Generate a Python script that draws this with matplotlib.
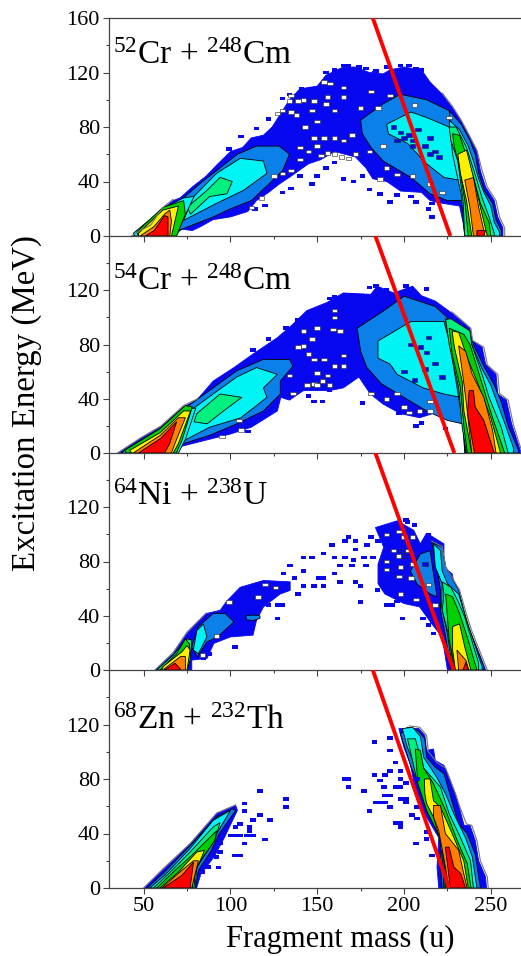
import matplotlib

matplotlib.use('Agg')
import matplotlib.pyplot as plt

plt.rcParams['font.family'] = ['Liberation Serif', 'DejaVu Serif']
plt.rcParams['mathtext.default'] = 'regular'

W, H = 521, 956
BLUE, AZURE, CYAN, SPRING, GREEN, YELLOW, ORANGE, RED = (
    '#0808f0', '#0a80e8', '#00f4f4', '#00f080', '#00d000', '#fff000', '#ff8000', '#ff0000')

# contour outlines, (mass, energy)
cr52_blue = [(43,0),(48,3),(54,7),(61,20),(67,26),(71,28),(78,36),(86,44),(92,52),(100,62),(107,65),(112,72),(119,74),(124,80),(129,90),(134,100),(140,108),(150,110),(155,118),(165,124),(172,124),(180,120),(188,119),(192,122),(200,124),(210,122),(215,113),(222,104),(228,94),(233,84),(238,72),(242,62),(244,48),(247,36),(252,26),(254,14),(257,6),(257,0),(235,0),(234,10),(232,22),(222,24),(215,26),(210,32),(198,33),(190,40),(182,42),(178,50),(172,58),(160,62),(152,56),(145,53),(135,44),(128,38),(122,32),(115,26),(110,18),(100,14),(90,12),(83,7),(78,4),(72,5),(67,0)]
cr52_azure_l = [(50,3),(60,18),(72,27),(82,38),(92,48),(104,60),(115,66),(128,66),(134,60),(130,48),(122,38),(112,26),(100,20),(90,14),(78,8),(70,4),(66,0),(50,0)]
cr52_azure_r = [(175,85),(188,97),(198,104),(213,100),(226,92),(232,75),(234,26),(225,26),(215,31),(204,43),(188,55),(181,65),(176,75)]
cr52_cyan_l = [(78.6,28.6),(92,46),(105.6,57),(119,55),(121,46),(107.5,33.5),(92,24),(73,11.5)]
cr52_cyan_r = [(190,82),(204,91),(213,87),(226,80),(232,63),(232,41),(223,43),(213,53),(202,68),(191,75)]
cr52_spring_l = [(75,21),(86,33),(94,43),(101,40),(98,31),(88,29),(77,16)]
cr52_tail_cyan = [(44,2),(61,20),(73,28),(79,29),(72,10),(68,0),(45,0)]
cr52_tail_green = [(46,3),(61,21),(73,26),(74,16),(69,0),(47,0)]
cr52_tail_yellow = [(47,2),(61,19),(70,22),(66,0),(47,0)]
cr52_tail_orange = [(48,0),(56,7),(62,16),(65,19),(66,11),(65,0)]
cr52_tail_red = [(51,0),(56,4),(62,15),(64,14),(64,0)]
cr52_strip_azure = [(226,92),(233,82),(238,70),(241,60),(243,46),(246,34),(251,24),(253,12),(256,4),(256,0),(235,0),(234,26)]
cr52_strip_cyan = [(226,85),(232,78),(237,66),(240,55),(243,42),(246,32),(250,22),(252,10),(255,3),(255,0),(235,0),(233,30),(228,60)]
cr52_strip_spring = [(226,80),(230,80),(236,65),(241,45),(245,28),(249,14),(252,2),(252,0),(235,0),(234,26),(231,55),(227,70)]
cr52_strip_green = [(228,75),(232,74),(237,55),(240,43),(244,24),(249,10),(250,0),(237,0),(235,26),(232,50),(229,65)]
cr52_strip_yellow = [(231,60),(236,63),(240,43),(244,21),(248,0),(239,0),(236,26),(232.5,46)]
cr52_strip_orange = [(235,41),(240,43),(243,21),(246,4),(246,0),(240,0),(238,21)]
cr52_strip_red = [(242,4),(247,4),(246,0),(242,0)]
cr52_dots = [(192,25),(186,31),(180,34),(171,40),(165,42),(147,38),(150,44),(135,35),(130,32),(120,22.5),(114,20),(216,14),(216,24),(207,25),(204,29),(160,122),(165,125),(174,124),(178,123),(210,122),(183,120),(155,120),(161,121),(168,125),(170,120),(184,121),(190,124),(198,125),(203,125),(207,123),(141,108),(146,108),(134,104),(130,101),(122,86),(115,79),(106,73),(99,64),(155,50),(160,54),(140,44),(176,44),(196,30),(214,20)]
cr52_holes = [(160,60),(156,61),(152,59),(164,58),(168,57),(143,80),(150,84),(135,91),(138,89),(147,92),(155,97),(142,100),(135,103),(160,92),(165,102),(175,94),(185,94),(181,106),(192,103),(206,96),(148,72),(154,72),(160,72),(165,70),(170,74),(130,46),(135,48),(140,56),(150,66),(145,62),(140,65),(125,44),(112,21),(118,28),(190,50),(186,42),(196,45),(205,44),(215,38),(222,32),(226,87),(188,66),(180,62),(172,60),(134,99),(139,99),(148,99),(156,102),(157.5,112),(165,109),(154,113),(130,92),(127,90)]
cr52_flecks = [(194,80),(198,76),(200,72),(196,70),(203,74),(205,70),(208,78),(215,72),(218,62),(220,58),(212,66),(215,60),(205,66)]
cr52_edge = [(222,105),(228,95),(233,85),(238,73),(242,63),(245,48),(248,36),(253,26),(255,14),(258,6),(258,0)]
cr52_edge_l = [(43,0),(48,4),(54,8),(61,21),(67,27)]

cr54_blue = [(35,0),(48,10.5),(59.5,19),(73,34),(80.6,39),(90,53),(102,63),(113,73),(127,85),(136,95),(144,105),(155.6,111),(165,118),(180.8,117),(184.6,123),(194,118),(205,123),(210,116),(218,112),(227.7,103),(238,92),(239,83),(245,78),(247,65.5),(253,58),(254,43.5),(259,39),(262,21.5),(267,2),(267,0),(235,0),(234,21.5),(227,24),(219,30),(209,26),(198,29),(188,36),(180.6,43.5),(174,56),(165,48),(157,46),(142,46),(134,39),(129,41),(127,31),(112,19),(100,14),(84.4,9),(69,4),(69,0)]
cr54_azure_l = [(74.8,34),(90,48),(103.6,60.6),(119,69),(134,69),(136,64),(128.7,53),(128.7,43.5),(119,31),(103.6,21.5),(88,13),(73,7),(69,2),(37,0),(48,9),(60,18)]
cr54_azure_r = [(173,92),(188,104.6),(200,115.6),(218,108),(225,99.8),(234,21.5),(225,24),(213,31),(200,41),(187,51),(178.6,63),(175,75)]
cr54_cyan_l = [(76.7,31),(90,43.5),(103.6,56),(115,63),(127,58),(119,48),(121,41),(106,26),(88,19),(73,9)]
cr54_cyan_r = [(185,82.6),(204,97),(223,97),(227,78),(233,41),(223,43.5),(211,48),(196,58),(192,65.5),(185,70)]
cr54_spring_l = [(80.6,29),(94,43.5),(106.5,41),(96,31),(86.5,21.5),(79,23)]
cr54_tail_cyan = [(38,1),(48,8),(60,18),(73,33),(80,33),(74,10),(70,0),(38,0)]
cr54_tail_green = [(39,2),(59.5,18),(74,35),(78,34),(72,9),(68.7,0),(40,0)]
cr54_tail_yellow = [(42,2),(59.5,15),(73,31),(77,31),(70,7),(67,0),(43,0)]
cr54_tail_orange = [(44,0),(59.5,13),(70,26),(74,26),(68,7),(66,0)]
cr54_tail_red = [(47,0),(59.5,10.5),(69,23),(65,7),(62,0)]
cr54_strip_azure = [(224,99),(238,90),(240,80),(246,64),(252,50),(256,38),(260,20),(266,2),(266,0),(235,0),(234,21)]
cr54_strip_cyan = [(224,97),(234,92),(239,80),(245,62),(250,50),(254,36),(258,22),(263,4),(263,0),(235.5,0),(233,40)]
cr54_strip_spring = [(224,98.5),(227,99),(238,90),(239,80),(245,58),(249,41),(256,19),(260,0),(236,0),(233.5,19),(231.5,48),(226,80)]
cr54_strip_green = [(226,92),(234.5,87.5),(238,80),(245,51),(251,26),(258,0),(236.5,0),(234.5,19),(232.5,48),(227.7,73)]
cr54_strip_yellow = [(227.7,90),(231.5,89),(236.5,70),(242,53),(250,26),(255.6,0),(239,0),(234.5,31),(233.5,53),(229,78)]
cr54_strip_orange = [(231.5,79),(235.5,75),(239.3,58),(246,41),(251,17),(253,0),(239,0),(236,36),(234,56)]
cr54_strip_red = [(237.5,46),(240,46),(241,34),(246,24),(252,0),(240.6,0),(236.6,29)]
cr54_dots = [(157,114),(148,38),(153,38),(145,42),(157,46),(197,29),(210,22),(207,20),(224,18),(176,37),(184,123),(201,123),(213,121),(180,122),(110,16),(160,115),(170,117),(190,120),(139,98),(132,92),(122,84),(113,76)]
cr54_holes = [(159,91),(163,90),(150,92),(160,105),(160,100),(142,90),(142,79),(147,84),(139,78),(145,73),(148,69),(154,69),(165,72),(160,64),(165,64),(150,59),(156,57),(144,50),(148,51),(157,50),(134,57),(136,44),(181,44),(196,44),(203,30),(209,31),(215,31),(95,12),(105,24),(106,17),(150,50),(153,53),(190,40),(200,34),(215,38)]
cr54_flecks = [(209.4,78),(214,85),(213,74),(204,80),(212,62),(218,66),(200,60),(206,54),(222,56)]
cr54_edge = [(227.7,104),(238.5,92),(239.5,83),(246,78),(248,65),(254,58),(255,44),(260,39),(263,21),(267.4,3)]
cr54_edge_l = [(35,0),(48,11),(60,20),(73,35),(81,40)]

ni64_blue_l = [(56.5,0),(67,12),(75,27),(86,41.6),(94,44),(98,51),(105.6,61),(119,66),(134.4,65),(134.4,58.7),(128.6,56),(119,46.5),(115,36.7),(113,25.7),(100,24.4),(90.4,19.6),(86.5,8.6),(77.7,7.3),(77.7,0)]
ni64_azure_l = [(77.7,17),(81.5,32),(90,41.6),(97,41.6),(102,35.5),(92.5,24.4),(86.5,20.8),(81,9.8)]
ni64_azure_e = [(109,37),(113,36.5),(117,38),(117,40),(113,40.5),(109,40)]
ni64_cyan_l = [(80.6,29),(84.4,34),(86.4,24.4),(81.5,12),(78.6,14.7)]
ni64_tail_spring = [(57.5,0),(67,11),(75,23),(77.7,22),(76.7,7),(75,0)]
ni64_tail_green = [(59.4,0),(69,12),(74,23),(76.5,19),(75.5,6),(74.5,0)]
ni64_tail_yellow = [(61,2.4),(72,13.4),(75,18),(76.7,14.7),(75,0),(61,0)]
ni64_tail_orange = [(62,1),(71.4,10),(74,10),(74,0),(62,0)]
ni64_tail_red = [(62,0),(68,5),(71,1),(71,0)]
ni64_blue_r = [(183.5,105),(196,110),(205.6,103),(209.4,93),(213,101),(223,93),(223,76),(227.7,71),(232.5,41.6),(237,32),(244,10),(247,0),(225,0),(222,24.4),(216,34),(209,46.5),(200,49),(189,56),(185,63.6),(185,78),(188.3,90.5)]
ni64_azure_r = [(203.7,73),(209.4,85.6),(215,88),(217,71),(219,54),(215,56),(207.5,63.4)]
ni64_strip_azure = [(216,94),(222,90.5),(224,76),(231.5,59),(235,41.6),(238,29),(246,2.4),(246,0),(227,0),(224,24.4),(221,44),(221,58.7),(219,76)]
ni64_strip_cyan = [(217,93),(221,88),(222,73),(225,63.6),(231.5,56),(236,36.7),(245,2.4),(245,0),(228,0),(225,27),(221.7,46.5),(222,63.6),(218,76)]
ni64_strip_spring = [(222,65),(227,61),(231,51),(235,39),(243,5),(243,0),(228.6,0),(226,24.4),(222,44),(223,56)]
ni64_strip_green = [(224,56),(228,54),(232,41.6),(237,22),(242,0),(229.6,0),(226,22),(225,39)]
ni64_strip_yellow = [(228,32),(232,34),(235,17),(238.5,0),(229.6,0),(228,14.7)]
ni64_strip_orange = [(230.5,14.7),(235.7,7),(237.3,0),(231.5,0)]
ni64_strip_red = [(234,0),(235.7,6),(237,0)]
ni64_dots = [(168,98),(166,95),(172,95),(178.6,92),(158.5,92),(153.6,86),(142,83),(147,83),(160,83),(166,83),(171,81),(177,83),(182,83),(185,95),(181,98),(172,89),(178,77),(170,77),(160,71),(163,77),(142,73),(137,68),(130.6,71),(134.4,77),(142,62),(148,62),(151,68),(153.6,68),(153.6,62),(163,65),(172,65),(175,62),(175,50),(139,56),(127,48),(130,48),(127,38),(122,48),(190,48),(193,48),(196,50.5),(184.6,59),(199,38),(211,38),(214,33),(217,27),(201,110.5),(202,109),(206,107),(102.7,17),(88,11.7),(84.5,8.6),(214,100)]
ni64_holes = [(190,100),(197,102),(200,98),(205,98),(194,88),(197,84),(202,88),(190,80),(198,76),(205,78),(190,74),(197,69),(204,68),(198,56),(207,52),(214,63),(218,48),(120,63),(126,61),(116,54),(99,50),(92,25),(84,11)]
ni64_flecks = [(199,88),(200,84),(212,78)]
ni64_edge = [(216,95),(222,91),(224,76),(232,59),(236,41),(239,29),(247,3),(248,0)]
ni64_edge_l = [(56.5,0),(67,13),(75,28),(86,42)]

zn68_blue_l = [(50,0),(61,13),(77,32.5),(92,54.5),(103,60.6),(104,57),(96.5,37),(90.5,22.7),(83,10.5),(80.5,0)]
zn68_azure_l = [(52,0),(62,11.7),(76.7,31),(92,52),(101,58),(103,57),(93.6,40),(89,27.6),(81.5,13),(80,0)]
zn68_cyan_l = [(53.6,0),(63,10.5),(76.7,29),(90,49.6),(100,57),(93,42),(87,30),(80.6,15.4),(79.6,0)]
zn68_spring_l = [(55.6,0),(64,10),(76.7,26.4),(90,44.7),(94,48),(91,35),(84.4,22.7),(79.6,13),(79,0)]
zn68_green_l = [(57.5,0),(67,11.7),(77.7,24),(88,37),(92,42),(91,35),(83.5,21.5),(78.6,10.5),(78,0)]
zn68_yellow_l = [(59.4,0),(70,11.7),(80.6,26.4),(85,27.6),(82.5,20),(77.7,8),(77.7,0)]
zn68_orange_l = [(60.4,0),(72,13),(78.7,20),(81.5,20),(77.7,0)]
zn68_red_l = [(61.3,0),(72,9.3),(78.7,19),(76.7,0)]
zn68_blue_r = [(197,117),(208.5,117),(212,112),(213,101),(217,102),(218,93.6),(223,90),(226,81),(229.6,69),(231.5,60.6),(234.6,46),(238,46),(241,35),(243,20),(247,8),(247.5,0),(220,0),(219,15.4),(220,37),(213,52),(207.5,66.7),(203.6,91),(200,103)]
zn68_azure_r = [(198,113),(202,118),(208,115.6),(212,109.5),(213,96),(218,88.7),(223,84),(228,62),(231.5,47),(236.3,40),(241,25),(244,0),(222,0),(221,15.4),(222,45),(211.3,67),(204,89)]
zn68_cyan_r = [(199,117),(205,118),(209.5,111),(211.3,96),(219,81),(224,69),(228.7,54.5),(235.4,37),(239.4,22.7),(242,0),(223,0),(222,22.7),(219,50),(213,62),(207.5,86),(202,103)]
zn68_spring_r = [(202,109.5),(206.5,109.5),(211.3,88),(221,74),(226,54.5),(232.5,37),(238.3,20),(240,0),(223.3,0),(222,32.5),(212,62),(207.5,79)]
zn68_green_r = [(206.5,102),(209.4,101),(211.3,88),(217,76.5),(224,57),(230.6,35),(236.4,18),(238.6,0),(224,0),(222.5,32.5),(213,57),(208,76.5)]
zn68_yellow_r = [(211.7,80),(215,80),(217,64),(221,59.4),(227.7,40),(234.4,20),(237,0),(224.8,0),(223.8,22.7),(217,52),(213,62),(212,69)]
zn68_orange_r = [(217,60.6),(221,60.6),(223.8,40),(231.5,27.6),(234.4,10.5),(236.4,0),(225.8,0),(223.5,18),(220,42),(217,52)]
zn68_red_r = [(223.8,30),(226,30),(228.7,15.4),(232.7,10.5),(235.5,0),(226.7,0)]
zn68_dots = [(166,80),(168,80),(168,74),(177,71),(180,56.5),(183,107),(192,110),(192,101),(195,92),(183,83),(189,83),(186,79),(188.4,74),(192,86),(198,86),(198,80),(195,74),(198,74),(201,77),(192,68),(189,68),(198,65.5),(201,65.5),(183.5,62.6),(186,62.6),(189,62.6),(192,59.4),(201,62.6),(195,47.7),(198,47.7),(198,44.7),(204.6,53.5),(207.5,51),(207.5,59.4),(207.5,80),(207,32.5),(213,41),(213,36),(216,24),(108,62),(108,56.5),(117,71),(132,65.5),(132,59.4),(117,53.5),(122.8,50),(113,50),(111,44.7),(120,35.7),(108,32.5),(102.7,23.7),(105.6,23.7),(93,15),(105.6,47),(103,44.7),(100,38.6),(103,38.6),(105.6,38.6),(109.4,38.6),(113,38.6),(111,42),(94,32.5),(92,22.7),(87,15.4),(84,11.7),(94,26.4)]
zn68_holes = []
zn68_flecks = []
zn68_edge = [(203,119),(209,118),(213,112),(214,100),(219,92),(224,88),(230,68),(232,60),(236,47),(239,46),(242,35),(244,20),(248,8),(248.5,0)]
zn68_edge_l = [(50,0),(61,14),(77,33),(92,55),(103,61)]

cr52_regions = [(BLUE, cr52_blue), (AZURE, cr52_azure_l), (AZURE, cr52_azure_r), (CYAN, cr52_cyan_l), (CYAN, cr52_cyan_r), (SPRING, cr52_spring_l), (CYAN, cr52_tail_cyan), (GREEN, cr52_tail_green), (YELLOW, cr52_tail_yellow), (ORANGE, cr52_tail_orange), (RED, cr52_tail_red), (AZURE, cr52_strip_azure), (CYAN, cr52_strip_cyan), (SPRING, cr52_strip_spring), (GREEN, cr52_strip_green), (YELLOW, cr52_strip_yellow), (ORANGE, cr52_strip_orange), (RED, cr52_strip_red)]
cr54_regions = [(BLUE, cr54_blue), (AZURE, cr54_azure_l), (AZURE, cr54_azure_r), (CYAN, cr54_cyan_l), (CYAN, cr54_cyan_r), (SPRING, cr54_spring_l), (CYAN, cr54_tail_cyan), (GREEN, cr54_tail_green), (YELLOW, cr54_tail_yellow), (ORANGE, cr54_tail_orange), (RED, cr54_tail_red), (AZURE, cr54_strip_azure), (CYAN, cr54_strip_cyan), (SPRING, cr54_strip_spring), (GREEN, cr54_strip_green), (YELLOW, cr54_strip_yellow), (ORANGE, cr54_strip_orange), (RED, cr54_strip_red)]
ni64_regions = [(BLUE, ni64_blue_l), (BLUE, ni64_blue_r), (AZURE, ni64_azure_l), (AZURE, ni64_azure_e), (AZURE, ni64_azure_r), (AZURE, ni64_strip_azure), (CYAN, ni64_cyan_l), (CYAN, ni64_strip_cyan), (SPRING, ni64_tail_spring), (GREEN, ni64_tail_green), (YELLOW, ni64_tail_yellow), (ORANGE, ni64_tail_orange), (RED, ni64_tail_red), (SPRING, ni64_strip_spring), (GREEN, ni64_strip_green), (YELLOW, ni64_strip_yellow), (ORANGE, ni64_strip_orange), (RED, ni64_strip_red)]
zn68_regions = [(BLUE, zn68_blue_l), (BLUE, zn68_blue_r), (AZURE, zn68_azure_l), (AZURE, zn68_azure_r), (CYAN, zn68_cyan_l), (CYAN, zn68_cyan_r), (SPRING, zn68_spring_l), (SPRING, zn68_spring_r), (GREEN, zn68_green_l), (GREEN, zn68_green_r), (YELLOW, zn68_yellow_l), (YELLOW, zn68_yellow_r), (ORANGE, zn68_orange_l), (ORANGE, zn68_orange_r), (RED, zn68_red_l), (RED, zn68_red_r)]

titles = ['$^{52}$Cr + $^{248}$Cm', '$^{54}$Cr + $^{248}$Cm', '$^{64}$Ni + $^{238}$U', '$^{68}$Zn + $^{232}$Th']
title_y = [126, 120.5, 122, 117]
line_mass = [[182, 226.7], [183.5, 229], [183.5, 228.6], [182, 226]]
line_energy = [160, 0]
panel_tops = [18, 236, 453, 670]
panel_bottoms = [236, 453, 670, 888]
all_regions = [cr52_regions, cr54_regions, ni64_regions, zn68_regions]
all_dots = [cr52_dots, cr54_dots, ni64_dots, zn68_dots]
all_holes = [cr52_holes, cr54_holes, ni64_holes, zn68_holes]
all_flecks = [cr52_flecks, cr54_flecks, ni64_flecks, zn68_flecks]
all_edges = [[cr52_edge, cr52_edge_l], [cr54_edge, cr54_edge_l], [ni64_edge, ni64_edge_l], [zn68_edge, zn68_edge_l]]


def squares(ax, points, color, edge='none'):
    if points:
        xs, ys = zip(*points)
        ax.bar(xs, 2.6, width=3.2, bottom=[y - 1.3 for y in ys], color=color, edgecolor=edge, linewidth=0.4, zorder=3)


fig = plt.figure(figsize=(W / 100, H / 100), dpi=100)
for i in range(4):
    top, bottom = panel_tops[i], panel_bottoms[i]
    ax = fig.add_axes([109 / W, 1 - bottom / H, (W - 109) / W, (bottom - top) / H])
    ax.set_facecolor('none')
    for color, poly in all_regions[i]:
        xs, ys = zip(*poly)
        ax.fill(xs, ys, facecolor=color, edgecolor=color if color == BLUE else 'black', linewidth=0.6, zorder=2)
    for edge in all_edges[i]:
        xs, ys = zip(*edge)
        ax.plot(xs, ys, color='#777777', linewidth=0.8, zorder=2.5)
    squares(ax, all_dots[i], BLUE)
    squares(ax, all_holes[i], 'white', '#222222')
    squares(ax, all_flecks[i], BLUE, '#222222')
    ax.plot(line_mass[i], line_energy, color='#ff0000', linewidth=2.8, zorder=5, solid_capstyle='butt')
    ax.text(32.5, title_y[i], titles[i], fontsize=24, color='black', zorder=6)

    ax.set_xlim(30, 267.4)
    ax.set_ylim(0, 160)
    ax.set_xticks([50, 100, 150, 200, 250])
    ax.set_xticks([75, 125, 175, 225], minor=True)
    ax.set_yticks([0, 40, 80, 120, 160] if i == 0 else [0, 40, 80, 120])
    ax.set_yticks([20, 60, 100, 140], minor=True)
    ax.tick_params(which='major', length=4.5, width=0.8, color='#444444', labelsize=16, pad=2)
    ax.tick_params(which='minor', length=2.5, width=0.8, color='#444444')
    ax.spines['right'].set_visible(False)
    ax.spines['top'].set_visible(i == 0)
    for s in ['left', 'bottom', 'top']:
        ax.spines[s].set_color('#444444')
        ax.spines[s].set_linewidth(0.9)
    if i < 3:
        ax.tick_params(axis='x', which='both', labelbottom=False)

fig.text(340 / W, 1 - 947 / H, 'Fragment mass (u)', fontsize=22, ha='center', va='baseline')
fig.text(27 / W, 1 - 403 / H, 'Excitation Energy (MeV)', rotation=90, fontsize=23.7, ha='center', va='center')
fig.savefig('out.png', dpi=100)
